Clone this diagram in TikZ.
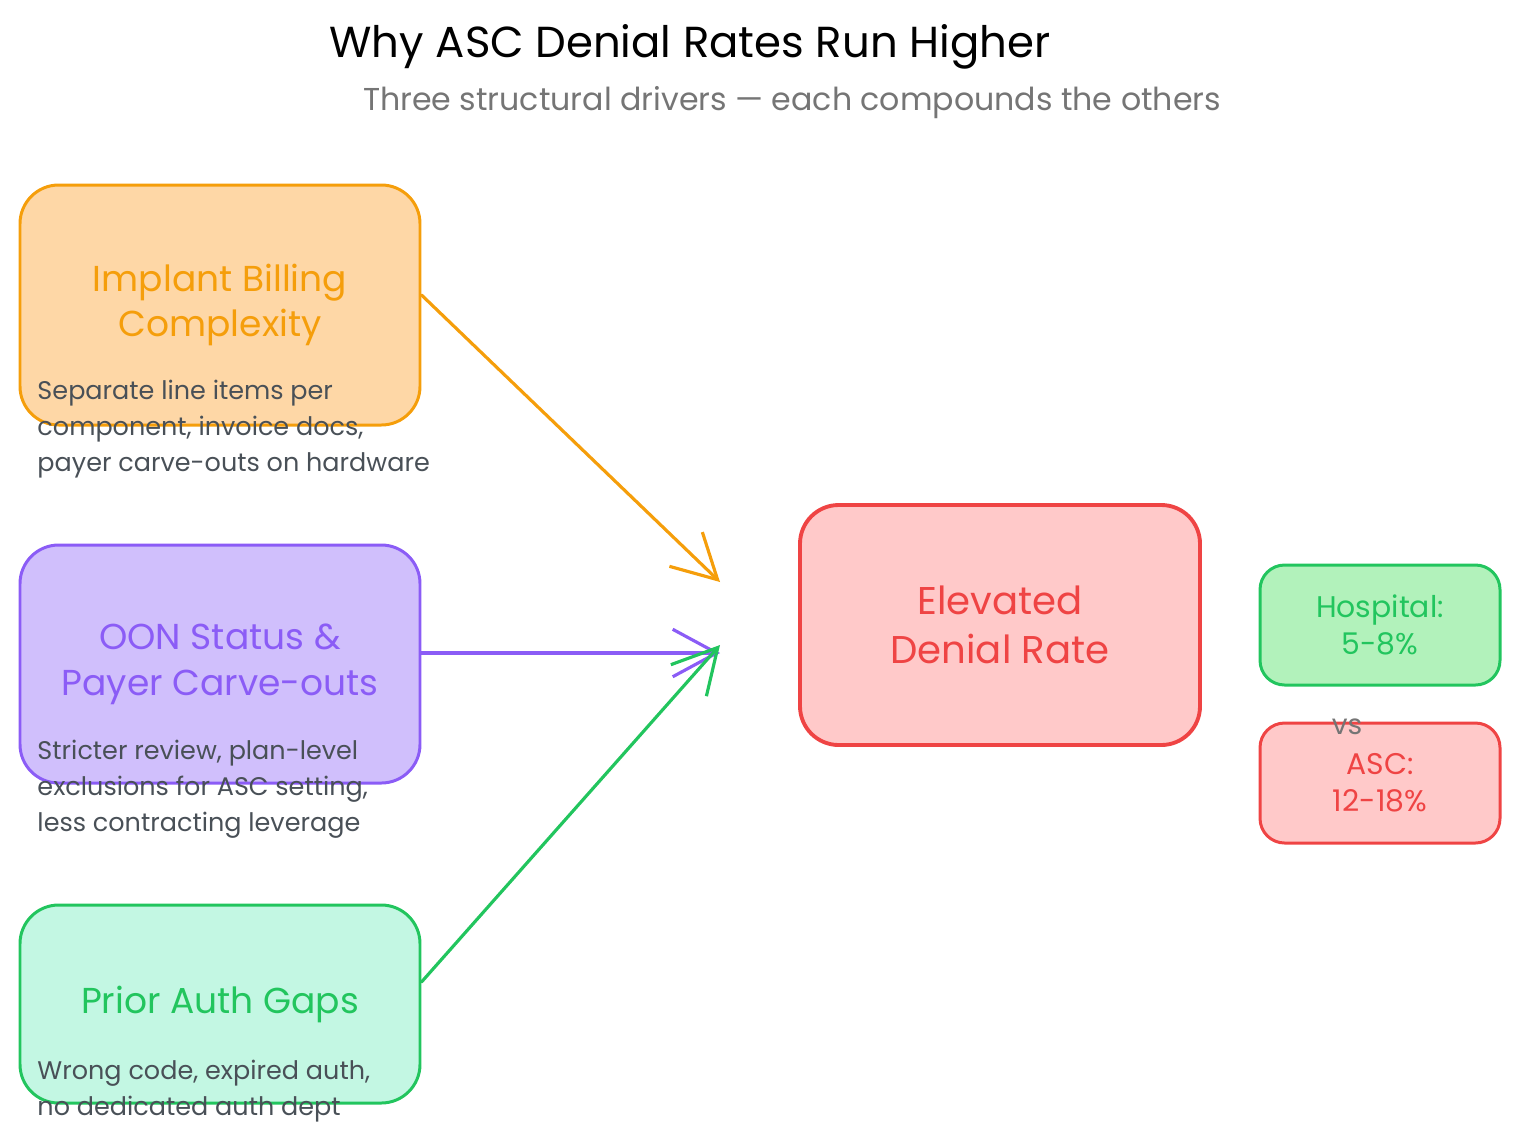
\documentclass[tikz,border=0pt]{standalone}
\usepackage{fontspec}
\setmainfont{Poppins}
\usetikzlibrary{arrows.meta, positioning}
\definecolor{corange}{HTML}{F59E0B}
\definecolor{corangefill}{HTML}{FED7A6}
\definecolor{cpurple}{HTML}{8B5CF6}
\definecolor{cpurplefill}{HTML}{D0BFFC}
\definecolor{cgreen}{HTML}{22C55E}
\definecolor{cgreenfill}{HTML}{C3F7E3}
\definecolor{cmint}{HTML}{22C55E}
\definecolor{cmintfill}{HTML}{B2F2BB}
\definecolor{cred}{HTML}{EF4444}
\definecolor{credfill}{HTML}{FFC9C9}
\definecolor{cgrey}{HTML}{495057}
\definecolor{clight}{HTML}{757575}
\tikzset{
  every picture/.style={line width=1.7pt},
  card/.style={draw=#1, fill=#1fill, text=#1, rounded corners=22pt, align=center,
               minimum width=8cm, minimum height=4.8cm, inner sep=0pt,
               font=\fontsize{20.5}{26}\selectfont},
  chip/.style={draw=#1, fill=#1fill, text=#1, rounded corners=14pt, align=center,
               minimum width=4.8cm, minimum height=2.4cm, inner sep=0pt,
               font=\fontsize{17}{21}\selectfont},
  arrow/.style={-{Straight Barb[length=8.8mm, width=9.5mm]}, draw=#1, line width=1.8pt, line cap=round},
  title/.style={font=\fontsize{24.7}{28}\selectfont},
  note/.style={font=\fontsize{14.5}{20.4}\selectfont, text=cgrey, align=left, anchor=west, inner sep=0pt},
}

\begin{document}
\begin{tikzpicture}
  \useasboundingbox (0,0) rectangle (30.4,-22.94);
  \node[title] (head) at (13.8,-0.94) {Why ASC Denial Rates Run Higher};
  \node[font=\fontsize{18}{20}\selectfont, text=clight] (sub) at (15.84,-2.06) {Three structural drivers — each compounds the others};
  % drivers
  \node[card=corange] (impl) at (4.4,-6.1) {Implant Billing\\Complexity};
  \node[card=cpurple, minimum height=4.76cm] (oon) at (4.4,-13.28) {OON Status \&\\Payer Carve-outs};
  \node[card=cgreen, minimum height=3.96cm] (auth) at (4.4,-20.08) {Prior Auth Gaps};
  \node[note] (impl-note) at (0.72,-8.58) {Separate line items per\\component, invoice docs,\\payer carve-outs on hardware};
  \node[note] (oon-note) at (0.72,-15.78) {Stricter review, plan-level\\exclusions for ASC setting,\\less contracting leverage};
  \node[note] (auth-note) at (0.72,-21.82) {Wrong code, expired auth,\\no dedicated auth dept};
  % result
  \node[card=cred, line width=2.2pt, font=\fontsize{22}{28}\selectfont] (denial) at (20,-12.5) {Elevated\\Denial Rate};
  \node[chip=cmint] (hosp) at (27.6,-12.5) {Hospital:\\5-8\%};
  \node[chip=cred] (asc) at (27.6,-15.66) {ASC:\\12-18\%};
  \node[font=\fontsize{16}{18}\selectfont, text=clight] (vs) at (26.94,-14.54) {vs};
  % arrows
  \coordinate (hit1) at (14.4,-11.64);
  \coordinate (hit2) at (14.4,-13.06);
  \coordinate (hit3) at (14.4,-12.9);
  \draw[arrow=corange] ([yshift=0.2cm]impl.east) -- (hit1);
  \draw[arrow=cpurple] ([yshift=0.22cm]oon.east) -- (hit2);
  \draw[arrow=cgreen] ([yshift=0.44cm]auth.east) -- (hit3);
\end{tikzpicture}
\end{document}
